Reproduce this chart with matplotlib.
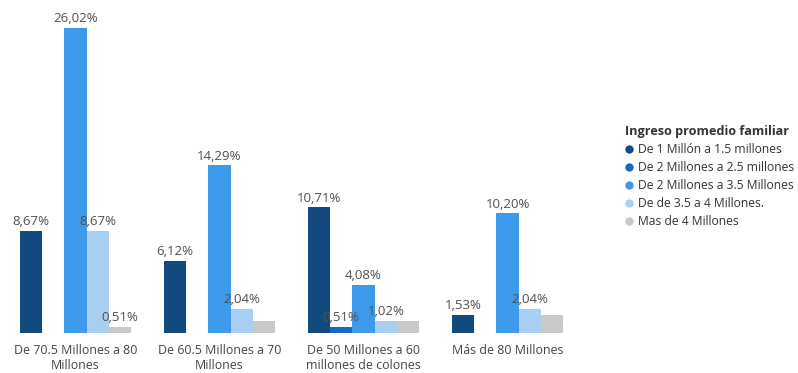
import matplotlib
matplotlib.use("Agg")
import matplotlib.pyplot as plt
import numpy as np
from matplotlib.lines import Line2D

plt.rcParams["font.family"] = ["Open Sans", "DejaVu Sans"]

categories = ["De 70.5 Millones a 80\nMillones", "De 60.5 Millones a 70\nMillones",
              "De 50 Millones a 60\nmillones de colones", "Más de 80 Millones"]
series_names = ["De 1 Millón a 1.5 millones", "De 2 Millones a 2.5 millones",
                "De 2 Millones a 3.5 Millones", "De de 3.5 a 4 Millones.",
                "Mas de 4 Millones"]
s1 = [8.67, 6.12, 10.71, 1.53]
s2 = [0, 0, 0.51, 0]
s3 = [26.02, 14.29, 4.08, 10.20]
s4 = [8.67, 2.04, 1.02, 2.04]
s5 = [0.51, 1.02, 1.02, 1.53]
# which gray bars carry a value label
s5_labeled = [True, False, False, False]

colors = ["#124a80", "#1868bd", "#3d99ec", "#a8cff2", "#c9c9c9"]
TEXT = "#505050"

W, H = 798, 373
fig = plt.figure(figsize=(W / 100, H / 100), dpi=100)
fig.patch.set_facecolor("white")

base_px = 333
ax = fig.add_axes([0, (H - base_px) / H, 600 / W, base_px / H])
ax.set_facecolor("none")

x = np.arange(len(categories))
bw = 0.155
all_series = [s1, s2, s3, s4, s5]
for i, (vals, col) in enumerate(zip(all_series, colors)):
    pos = x + (i - 2) * bw
    ax.bar(pos, vals, width=bw, color=col, linewidth=0)
    for j, (px, v) in enumerate(zip(pos, vals)):
        if v == 0:
            continue
        if i == 4 and not s5_labeled[j]:
            continue
        ax.text(px, v + 0.25, f"{v:.2f}%".replace(".", ","), ha="center", va="bottom",
                fontsize=9.5, color=TEXT, clip_on=False)

x0 = -75.5 / 144
ax.set_xlim(x0, x0 + 600 / 144)
ax.set_ylim(0, 26.02 * base_px / 305)
ax.set_xticks(x)
ax.set_xticklabels(categories, fontsize=8.9, color="#444444", linespacing=1.2)
ax.tick_params(axis="x", length=0, pad=8)
ax.set_yticks([])
for s in ax.spines.values():
    s.set_visible(False)

handles = [Line2D([], [], marker="o", linestyle="none", markersize=6,
                  markerfacecolor=c, markeredgecolor="none") for c in colors]
leg = fig.legend(handles, series_names, title="Ingreso promedio familiar",
                 loc="upper left", bbox_to_anchor=(625 / W, (H - 125) / H),
                 frameon=False, fontsize=8.7, handlelength=0.7, handletextpad=0.35,
                 labelspacing=0.42, borderpad=0, borderaxespad=0, alignment="left",
                 title_fontproperties={"weight": "bold", "size": 9.1})
for t in leg.get_texts():
    t.set_color("#333333")
leg.get_title().set_color("#333333")

fig.savefig("out.png", dpi=100, facecolor="white")
